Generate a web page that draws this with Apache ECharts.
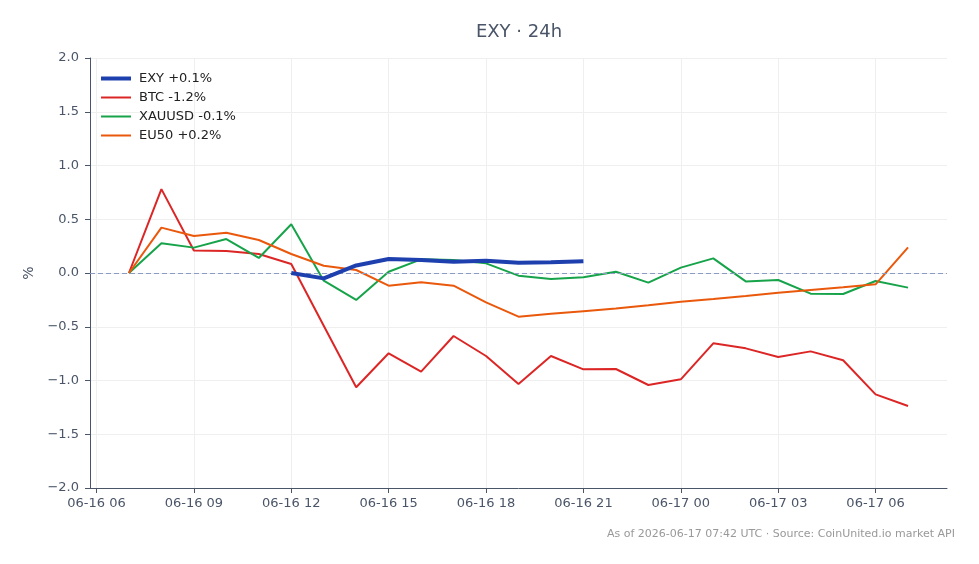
<!DOCTYPE html>
<html>
<head>
<meta charset="utf-8">
<title>EXY 24h</title>
<script src="https://cdn.jsdelivr.net/npm/echarts@6/dist/echarts.min.js"></script>
<style>
    html, body { margin: 0; padding: 0; background: #fff; }
    #chart { width: 979px; height: 564px; }
</style>
</head>
<body>
<div id="chart"></div>
<script>
// hourly points, UTC
var times = [
    '2026-06-16 07:00', '2026-06-16 08:00', '2026-06-16 09:00', '2026-06-16 10:00', '2026-06-16 11:00',
    '2026-06-16 12:00', '2026-06-16 13:00', '2026-06-16 14:00', '2026-06-16 15:00', '2026-06-16 16:00',
    '2026-06-16 17:00', '2026-06-16 18:00', '2026-06-16 19:00', '2026-06-16 20:00', '2026-06-16 21:00',
    '2026-06-16 22:00', '2026-06-16 23:00', '2026-06-17 00:00', '2026-06-17 01:00', '2026-06-17 02:00',
    '2026-06-17 03:00', '2026-06-17 04:00', '2026-06-17 05:00', '2026-06-17 06:00', '2026-06-17 07:00'
];
var tickTimes = [
    '2026-06-16 06:00', '2026-06-16 09:00', '2026-06-16 12:00', '2026-06-16 15:00', '2026-06-16 18:00',
    '2026-06-16 21:00', '2026-06-17 00:00', '2026-06-17 03:00', '2026-06-17 06:00'
];
var axisStart = '2026-06-16 05:48';
var axisEnd = '2026-06-17 08:12';

var seriesNames = ['EXY +0.1%', 'BTC -1.2%', 'XAUUSD -0.1%', 'EU50 +0.2%'];

var exy = [null, null, null, null, null,
    0.0, -0.05, 0.07, 0.13, 0.12, 0.105, 0.115, 0.095, 0.10, 0.11,
    null, null, null, null, null, null, null, null, null, null];
var btc = [0, 0.78, 0.21, 0.205, 0.177, 0.084, -0.49, -1.063, -0.747, -0.918, -0.586, -0.772, -1.033,
    -0.772, -0.896, -0.893, -1.042, -0.989, -0.654, -0.701, -0.781, -0.729, -0.812, -1.129, -1.237];
var xauusd = [0, 0.276, 0.236, 0.316, 0.14, 0.453, -0.071, -0.251, 0.012, 0.127, 0.12, 0.09, -0.025,
    -0.056, -0.04, 0.012, -0.09, 0.05, 0.136, -0.078, -0.065, -0.192, -0.195, -0.074, -0.136];
var eu50 = [0, 0.422, 0.344, 0.375, 0.307, 0.177, 0.068, 0.028, -0.118, -0.087, -0.118, -0.273, -0.406,
    -0.38, -0.355, -0.33, -0.30, -0.267, -0.242, -0.214, -0.183, -0.158, -0.133, -0.105, 0.239];

var FONT = 'DejaVu Sans';
var AXIS_COLOR = '#4a5568';
var colors = ['#1e40af', '#dc2626', '#16a34a', '#ea580c'];
var widths = [4, 2, 2, 2];

function toMs(s) {
    var p = s.split(/[- :]/);
    return Date.UTC(+p[0], +p[1] - 1, +p[2], +p[3], +p[4]);
}

function pad(n) {
    return n < 10 ? '0' + n : '' + n;
}

function fmtTick(ms) {
    var d = new Date(ms);
    return pad(d.getUTCMonth() + 1) + '-' + pad(d.getUTCDate()) + ' ' + pad(d.getUTCHours());
}

function pairs(values) {
    return values.map(function (v, i) {
        return [toMs(times[i]), v];
    });
}

function lineSeries(idx, values) {
    return {
        name: seriesNames[idx],
        type: 'line',
        symbol: 'none',
        z: idx === 0 ? 5 : 2,
        lineStyle: { width: widths[idx], color: colors[idx] },
        itemStyle: { color: colors[idx] },
        data: pairs(values)
    };
}

var myChart = echarts.init(document.getElementById('chart'));
var tickMs = tickTimes.map(toMs);

var exySeries = lineSeries(0, exy);
exySeries.markLine = {
    silent: true,
    symbol: 'none',
    label: { show: false },
    lineStyle: { type: [5, 3], color: '#8a9cc2', width: 1 },
    data: [{ yAxis: 0 }]
};

var option = {
    backgroundColor: '#fff',
    animation: false,
    textStyle: { fontFamily: FONT },
    grid: {
        left: 90,
        right: 32,
        top: 58,
        bottom: 76
    },
    graphic: [{
        type: 'text',
        x: 519,
        y: 32,
        style: {
            text: 'EXY · 24h',
            align: 'center',
            verticalAlign: 'middle',
            font: '18px "DejaVu Sans"',
            fill: '#4a5568'
        }
    }, {
        type: 'text',
        x: 955,
        y: 534,
        style: {
            text: 'As of 2026-06-17 07:42 UTC · Source: CoinUnited.io market API',
            align: 'right',
            verticalAlign: 'middle',
            font: '11px "DejaVu Sans"',
            fill: '#999'
        }
    }],
    legend: {
        orient: 'vertical',
        left: 96,
        top: 67,
        itemWidth: 30,
        itemHeight: 14,
        itemGap: 6,
        textStyle: {
            fontFamily: FONT,
            fontSize: 13,
            color: '#222',
            padding: [0, 0, 0, 3]
        },
        data: seriesNames.map(function (n, i) {
            return { name: n, icon: 'path://M0,0H30V' + widths[i] + 'H0Z' };
        })
    },
    xAxis: {
        type: 'value',
        min: toMs(axisStart),
        max: toMs(axisEnd),
        axisLine: { show: true, onZero: false, lineStyle: { color: AXIS_COLOR, width: 1 } },
        axisTick: {
            show: true,
            length: 5,
            customValues: tickMs,
            lineStyle: { color: AXIS_COLOR }
        },
        axisLabel: {
            customValues: tickMs,
            margin: 9,
            fontFamily: FONT,
            fontSize: 13,
            color: AXIS_COLOR,
            formatter: fmtTick
        },
        splitLine: { show: true, lineStyle: { color: '#efefef', width: 1 } }
    },
    yAxis: {
        type: 'value',
        min: -2,
        max: 2,
        interval: 0.5,
        name: '%',
        nameLocation: 'middle',
        nameGap: 53,
        nameRotate: 90,
        nameTextStyle: { fontFamily: FONT, fontSize: 14, color: AXIS_COLOR },
        axisLine: { show: true, lineStyle: { color: AXIS_COLOR, width: 1 } },
        axisTick: { show: true, length: 5, lineStyle: { color: AXIS_COLOR } },
        axisLabel: {
            margin: 11,
            fontFamily: FONT,
            fontSize: 13,
            color: AXIS_COLOR,
            formatter: function (v) {
                var s = Math.abs(v).toFixed(1);
                return v < 0 ? '\u2212' + s : s;
            }
        },
        splitLine: { show: true, lineStyle: { color: '#efefef', width: 1 } }
    },
    series: [
        exySeries,
        lineSeries(1, btc),
        lineSeries(2, xauusd),
        lineSeries(3, eu50)
    ]
};

myChart.setOption(option);
window.addEventListener('resize', myChart.resize);
</script>
</body>
</html>
